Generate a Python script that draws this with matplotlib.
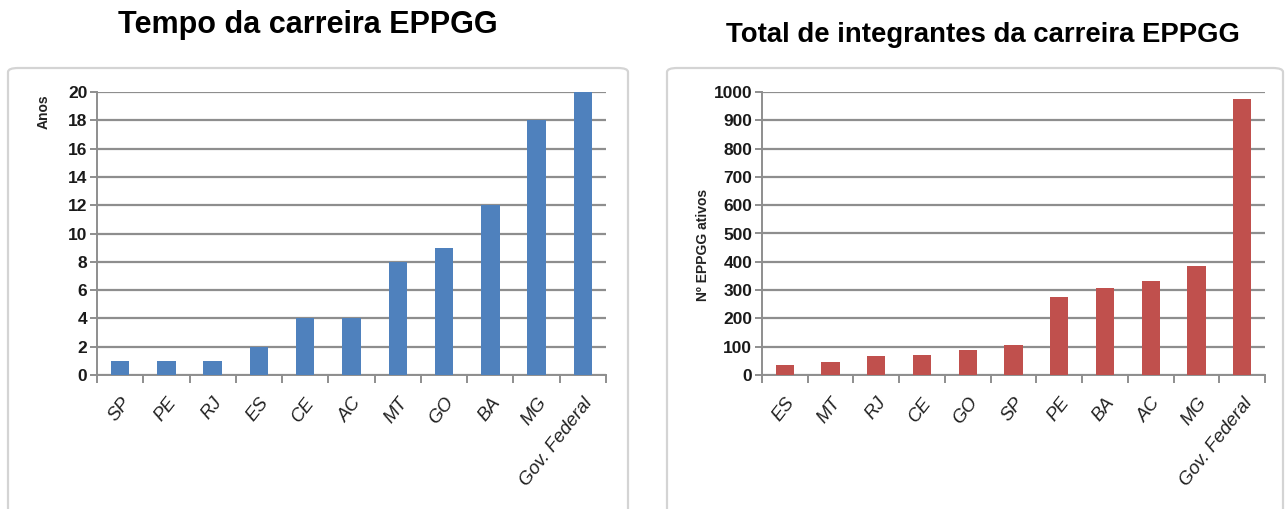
import matplotlib
matplotlib.use("Agg")
import matplotlib.pyplot as plt
from matplotlib.patches import FancyBboxPatch
from matplotlib.ticker import FixedLocator, NullFormatter

# Years of existence of the EPPGG career, by government
tempo_categorias = ["SP", "PE", "RJ", "ES", "CE", "AC", "MT", "GO", "BA", "MG", "Gov. Federal"]
tempo_anos = [1, 1, 1, 2, 4, 4, 8, 9, 12, 18, 20]
tempo_yticks = [0, 2, 4, 6, 8, 10, 12, 14, 16, 18, 20]

# Number of active EPPGG members, by government
total_categorias = ["ES", "MT", "RJ", "CE", "GO", "SP", "PE", "BA", "AC", "MG", "Gov. Federal"]
total_ativos = [36, 45, 66, 71, 89, 106, 274, 309, 332, 384, 976]
total_yticks = [0, 100, 200, 300, 400, 500, 600, 700, 800, 900, 1000]

BLUE = "#4F81BD"
RED = "#C0504D"
GRID = "#8E8E8E"

plt.rcParams["font.family"] = ["Liberation Sans", "DejaVu Sans"]

W, H = 1285, 509
fig = plt.figure(figsize=(W / 100, H / 100), dpi=100)
fig.patch.set_facecolor("white")


def fx(px):
    return px / W


def fy(py):
    return 1 - py / H


# Chart-area frames
for x0, x1 in [(8, 628), (667, 1283)]:
    frame = FancyBboxPatch((fx(x0), fy(H + 20)), fx(x1 - x0), (H + 20 - 68) / H,
                           boxstyle="round,pad=0,rounding_size=0.008",
                           transform=fig.transFigure, facecolor="white",
                           edgecolor="#D4D4D4", linewidth=1.6, zorder=-5)
    fig.patches.append(frame)


def draw_panel(rect, cats, vals, yticks, color, ymax):
    ax = fig.add_axes(rect)
    ax.set_zorder(5)
    ax.set_facecolor("none")
    x = range(len(cats))
    ax.bar(x, vals, width=0.4, color=color, zorder=3)
    ax.set_xlim(-0.5, len(cats) - 0.5)
    ax.set_ylim(0, ymax)
    ax.set_yticks(yticks)
    ax.yaxis.grid(True, color=GRID, linewidth=1.6, zorder=0)
    ax.set_axisbelow(True)
    for s in ["top", "right"]:
        ax.spines[s].set_visible(False)
    for s in ["left", "bottom"]:
        ax.spines[s].set_color(GRID)
        ax.spines[s].set_linewidth(1.4)
    ax.tick_params(axis="y", length=5, width=1.4, color=GRID, pad=2)
    for lab in ax.get_yticklabels():
        lab.set_family(["Liberation Sans Narrow", "Liberation Sans", "DejaVu Sans"])
        lab.set_fontweight("bold")
        lab.set_fontsize(12.5)
        lab.set_color("#1A1A1A")
    # category labels at the centres, tick marks between categories
    ax.set_xticks(list(x))
    ax.set_xticklabels(cats, rotation=52, ha="right", rotation_mode="anchor",
                       fontsize=13.5, style="italic", color="#222222")
    ax.tick_params(axis="x", which="major", length=0, pad=14)
    ax.xaxis.set_minor_locator(FixedLocator([i + 0.5 for i in range(-1, len(cats))]))
    ax.xaxis.set_minor_formatter(NullFormatter())
    ax.tick_params(axis="x", which="minor", length=6, width=1.4, color=GRID)
    return ax


ax1 = draw_panel([fx(97), fy(375), fx(606 - 97), (375 - 92) / H],
                 tempo_categorias, tempo_anos, tempo_yticks, BLUE, 20)
ax2 = draw_panel([fx(762), fy(375), fx(1265 - 762), (375 - 92) / H],
                 total_categorias, total_ativos, total_yticks, RED, 1000)

fig.text(fx(44), fy(112), "Anos", rotation=90, ha="center", va="center",
         fontsize=10, fontweight="bold", color="#222222")
fig.text(fx(703), fy(245), "Nº EPPGG ativos", rotation=90, ha="center", va="center",
         fontsize=10, fontweight="bold", color="#222222")

fig.text(fx(308), fy(25), "Tempo da carreira EPPGG", ha="center", va="center",
         fontsize=22, fontweight="bold", color="black")
fig.text(fx(983), fy(35), "Total de integrantes da carreira EPPGG", ha="center",
         va="center", fontsize=19.8, fontweight="bold", color="black")

fig.savefig("out.png", dpi=100, facecolor="white")
